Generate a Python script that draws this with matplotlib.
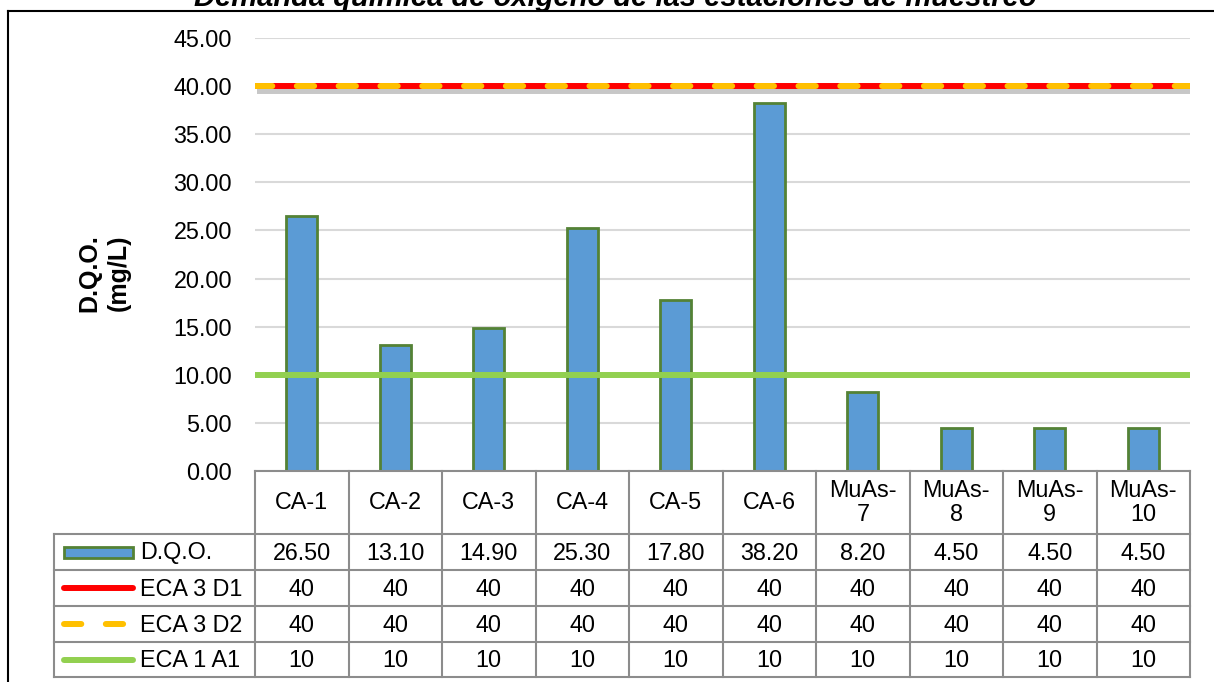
import matplotlib
matplotlib.use("Agg")
import matplotlib.pyplot as plt
import matplotlib.patheffects as pe
from matplotlib.patches import Rectangle
from matplotlib.lines import Line2D

plt.rcParams['font.family'] = ['Liberation Sans', 'DejaVu Sans']

# ---- data ----
estaciones = ["CA-1", "CA-2", "CA-3", "CA-4", "CA-5", "CA-6",
              "MuAs-\n7", "MuAs-\n8", "MuAs-\n9", "MuAs-\n10"]
dqo = [26.50, 13.10, 14.90, 25.30, 17.80, 38.20, 8.20, 4.50, 4.50, 4.50]
eca3_d1 = [40] * 10
eca3_d2 = [40] * 10
eca1_a1 = [10] * 10
series_names = ["D.Q.O.", "ECA 3 D1", "ECA 3 D2", "ECA 1 A1"]
yticks = [0, 5, 10, 15, 20, 25, 30, 35, 40, 45]
titulo = "Demanda química de oxígeno de las estaciones de muestreo"
ylabel = "D.Q.O.\n(mg/L)"

# ---- styles ----
BAR_FACE = "#5B9BD5"
BAR_EDGE = "#548235"
RED = "#FF0000"
ORANGE = "#FFC000"
GREEN = "#92D050"
GRID = "#D9D9D9"
TABLE_LINE = "#8C8C8C"
FS = 16.8
LW = 4.3
DASH = (2.9, 4.1)

W, H = 1214, 682
fig = plt.figure(figsize=(W / 100, H / 100), dpi=100)

# outer chart frame
fig.add_artist(Line2D([8 / W, 1.0], [1 - 11 / H, 1 - 11 / H], color="black", lw=1.5,
                      transform=fig.transFigure))
fig.add_artist(Line2D([8 / W, 8 / W], [0, 1 - 11 / H], color="black", lw=1.5,
                      transform=fig.transFigure))

# plot area
px_l, px_r, px_t, px_b = 255, 1190, 38, 471
ax = fig.add_axes([px_l / W, 1 - px_b / H, (px_r - px_l) / W, (px_b - px_t) / H])
n = len(estaciones)
x = list(range(n))
ax.set_xlim(-0.5, n - 0.5)
ax.set_ylim(0, 45)
ax.set_yticks(yticks)
ax.set_yticklabels([f"{v:.2f}" for v in yticks], fontsize=FS)
ax.tick_params(axis="y", length=0, pad=16.5)
ax.set_xticks([])
for s in ax.spines.values():
    s.set_visible(False)
ax.grid(axis="y", color=GRID, lw=1.5)
ax.set_axisbelow(True)

ax.bar(x, dqo, width=0.33, color=BAR_FACE, edgecolor=BAR_EDGE, linewidth=2, zorder=2)

ax.plot([-0.5, n - 0.5], [eca3_d1[0], eca3_d1[-1]], color=RED, lw=LW, zorder=3,
        solid_capstyle="butt",
        path_effects=[pe.SimpleLineShadow(offset=(1.5, -3.5), shadow_color="black", alpha=0.22),
                      pe.Normal()])
ax.plot([-0.5, n - 0.5], [eca3_d2[0], eca3_d2[-1]], color=ORANGE, lw=LW, zorder=4,
        dashes=DASH, dash_capstyle="round")
ax.plot([-0.5, n - 0.5], [eca1_a1[0], eca1_a1[-1]], color=GREEN, lw=LW, zorder=3,
        solid_capstyle="butt")

fig.text(104 / W, 1 - 273 / H, ylabel, rotation=90, ha="center", va="center",
         fontsize=18, fontweight="bold", linespacing=1.25)

fig.text(615 / W, 1 - 5.5 / H, titulo, ha="center", va="baseline",
         fontsize=21, fontweight="bold", fontstyle="italic")

# ---- data table below the plot ----
tab_l, tab_t, tab_b = 54, 471, 677
leg_w = (px_l - tab_l) / ((px_r - px_l) / n)
tab = fig.add_axes([tab_l / W, 1 - tab_b / H, (px_r - tab_l) / W, (tab_b - tab_t) / H])
tab.set_xlim(-0.5 - leg_w, n - 0.5)
row_h = [63, 36, 36, 36, 35]
edges = [0]
for h in row_h:
    edges.append(edges[-1] + h)
tab.set_ylim(edges[-1], 0)
tab.axis("off")

lk = dict(color=TABLE_LINE, lw=1.5, clip_on=False, solid_capstyle="projecting")
# horizontal lines
tab.plot([-0.5, n - 0.5], [edges[0]] * 2, **lk)
for e in edges[1:]:
    tab.plot([-0.5 - leg_w, n - 0.5], [e] * 2, **lk)
# vertical lines
tab.plot([-0.5 - leg_w] * 2, [edges[1], edges[-1]], **lk)
for i in range(n + 1):
    tab.plot([i - 0.5] * 2, [edges[0], edges[-1]], **lk)

def mid(r):
    return (edges[r] + edges[r + 1]) / 2

for i, lab in enumerate(estaciones):
    tab.text(i, mid(0), lab, ha="center", va="center", fontsize=FS, linespacing=1.1)

rows = [[f"{v:.2f}" for v in dqo],
        [f"{v:g}" for v in eca3_d1],
        [f"{v:g}" for v in eca3_d2],
        [f"{v:g}" for v in eca1_a1]]
for r, vals in enumerate(rows, start=1):
    for i, v in enumerate(vals):
        tab.text(i, mid(r) + 1, v, ha="center", va="center", fontsize=FS)

# legend keys inside the first column
unit = (px_r - px_l) / n  # px per data unit
kx0 = -0.5 - leg_w + (64 - tab_l) / unit
kx1 = -0.5 - leg_w + (133 - tab_l) / unit
tx = -0.5 - leg_w + (140 - tab_l) / unit
tab.add_patch(Rectangle((kx0, mid(1) - 5.5), kx1 - kx0, 11, facecolor=BAR_FACE,
                        edgecolor=BAR_EDGE, lw=2, clip_on=False))
tab.plot([kx0, kx1], [mid(2)] * 2, color=RED, lw=LW, solid_capstyle="round", clip_on=False)
tab.plot([kx0, kx1], [mid(3)] * 2, color=ORANGE, lw=LW, dashes=DASH,
         dash_capstyle="round", clip_on=False)
tab.plot([kx0, kx1], [mid(4)] * 2, color=GREEN, lw=LW, solid_capstyle="round", clip_on=False)
for r, name in enumerate(series_names, start=1):
    tab.text(tx, mid(r) + 1, name, ha="left", va="center", fontsize=FS)

fig.savefig("out.png", dpi=100)
